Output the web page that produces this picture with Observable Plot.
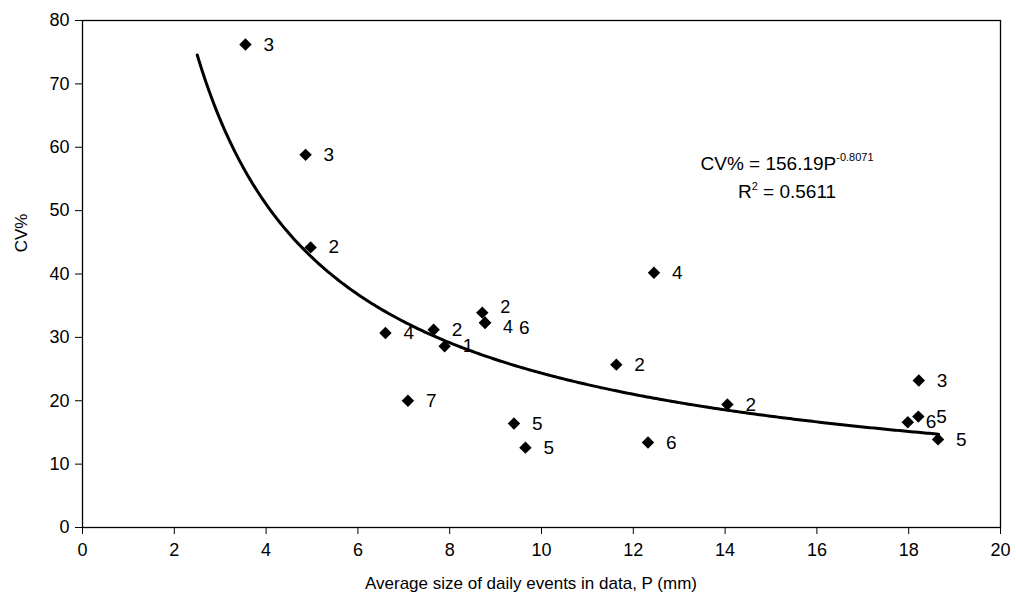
<!DOCTYPE html>
<html><head><meta charset="utf-8">
<script src="https://cdn.jsdelivr.net/npm/d3@7"></script>
<script src="https://cdn.jsdelivr.net/npm/@observablehq/plot@0.6"></script>
<style>
body{margin:0;background:#fff}
svg{display:block}
</style>
</head><body><div id="chart"></div>
<script>
// Data
const P  = [3.55, 4.86, 4.97, 6.60, 7.65, 7.89, 7.09, 8.71, 8.77, 8.77, 9.40, 9.65, 11.63, 12.45, 12.32, 14.05, 18.22, 18.21, 17.98, 18.64];
const CV = [76.2, 58.8, 44.2, 30.7, 31.2, 28.6, 20.0, 33.9, 32.3, 32.3, 16.4, 12.6, 25.7, 40.2, 13.4, 19.4, 23.2, 17.5, 16.6, 13.9];
const labels = ["3","3","2","4","2","1","7","2","4","6","5","5","2","4","6","2","3","5","6","5"];
const xTicks = [0, 2, 4, 6, 8, 10, 12, 14, 16, 18, 20];
const yTicks = [0, 10, 20, 30, 40, 50, 60, 70, 80];
// Power trendline shown on the chart: CV% = 156.19 P^-0.8071
const fitA = 156.19, fitB = -0.8071, fitR2 = "0.5611";
const fitRange = [2.5, 18.65];

const points = P.map((p, i) => ({P: p, CV: CV[i], label: labels[i], i}));
const overlapIdx = 9; // label pushed right where two points coincide
const raisedIdx = 7;  // label nudged up in the crowded cluster
const loweredIdx = 8; // label nudged down in the crowded cluster
const trend = d3.range(fitRange[0], fitRange[1] + 1e-9, 0.05).map(p => ({P: p, CV: fitA * Math.pow(p, fitB)}));

const font = "'Liberation Sans', Arial, Helvetica, sans-serif";
const special = new Set([overlapIdx, raisedIdx, loweredIdx]);

const plot = Plot.plot({
  width: 1016,
  height: 598,
  marginLeft: 82,
  marginRight: 16,
  marginTop: 20,
  marginBottom: 71,
  style: {fontFamily: font, fontSize: "18px", color: "#000", background: "#fff"},
  x: {domain: [0, 20], ticks: xTicks, label: null},
  y: {domain: [0, 80], ticks: yTicks, label: null},
  marks: [
    Plot.frame({stroke: "#000", strokeWidth: 1.3}),
    Plot.axisX({ticks: xTicks, tickSize: 7, tickPadding: 9, fontSize: 18, label: null, stroke: "#000"}),
    Plot.axisY({ticks: yTicks, tickSize: 7, tickPadding: 6, fontSize: 18, label: null, stroke: "#000"}),
    Plot.line(trend, {x: "P", y: "CV", stroke: "#000", strokeWidth: 3, curve: "linear"}),
    Plot.dot(points, {x: "P", y: "CV", symbol: "diamond2", r: 5.6, fill: "#000", stroke: "none"}),
    Plot.text(points.filter(d => !special.has(d.i)), {x: "P", y: "CV", text: "label", dx: 18, textAnchor: "start", fontSize: 19, fill: "#000"}),
    Plot.text(points.filter(d => d.i === raisedIdx), {x: "P", y: "CV", text: "label", dx: 18, dy: -5, textAnchor: "start", fontSize: 18, fill: "#000"}),
    Plot.text(points.filter(d => d.i === loweredIdx), {x: "P", y: "CV", text: "label", dx: 18, dy: 4, textAnchor: "start", fontSize: 18, fill: "#000"}),
    Plot.text(points.filter(d => d.i === overlapIdx), {x: "P", y: "CV", text: "label", dx: 34, dy: 5, textAnchor: "start", fontSize: 19, fill: "#000"})
  ]
});

document.getElementById("chart").appendChild(plot);

// Annotations: equation, R², axis titles
const svg = d3.select(plot);
const sx = plot.scale("x"), sy = plot.scale("y");
const eqX = sx.apply(15.36);
const t1 = svg.append("text")
  .attr("x", eqX).attr("y", sy.apply(56.3))
  .attr("text-anchor", "middle")
  .style("font-family", font).style("font-size", "19px").attr("fill", "#000");
t1.append("tspan").text("CV% = " + fitA.toFixed(2) + "P");
t1.append("tspan").attr("dy", -9).style("font-size", "11px").text(String(fitB));

const t2 = svg.append("text")
  .attr("x", eqX).attr("y", sy.apply(51.9))
  .attr("text-anchor", "middle")
  .style("font-family", font).style("font-size", "19px").attr("fill", "#000");
t2.append("tspan").text("R");
t2.append("tspan").attr("dy", -8).style("font-size", "11px").text("2");
t2.append("tspan").attr("dy", 8).text(" = " + fitR2);

svg.append("text")
  .attr("x", sx.apply(10) - 10).attr("y", 589)
  .attr("text-anchor", "middle")
  .style("font-family", font).style("font-size", "17px").attr("fill", "#000")
  .text("Average size of daily events in data, P (mm)");

svg.append("text")
  .attr("transform", `translate(27,${sy.apply(46.4)}) rotate(-90)`)
  .attr("text-anchor", "middle")
  .style("font-family", font).style("font-size", "17px").attr("fill", "#000")
  .text("CV%");
</script>
</body></html>
